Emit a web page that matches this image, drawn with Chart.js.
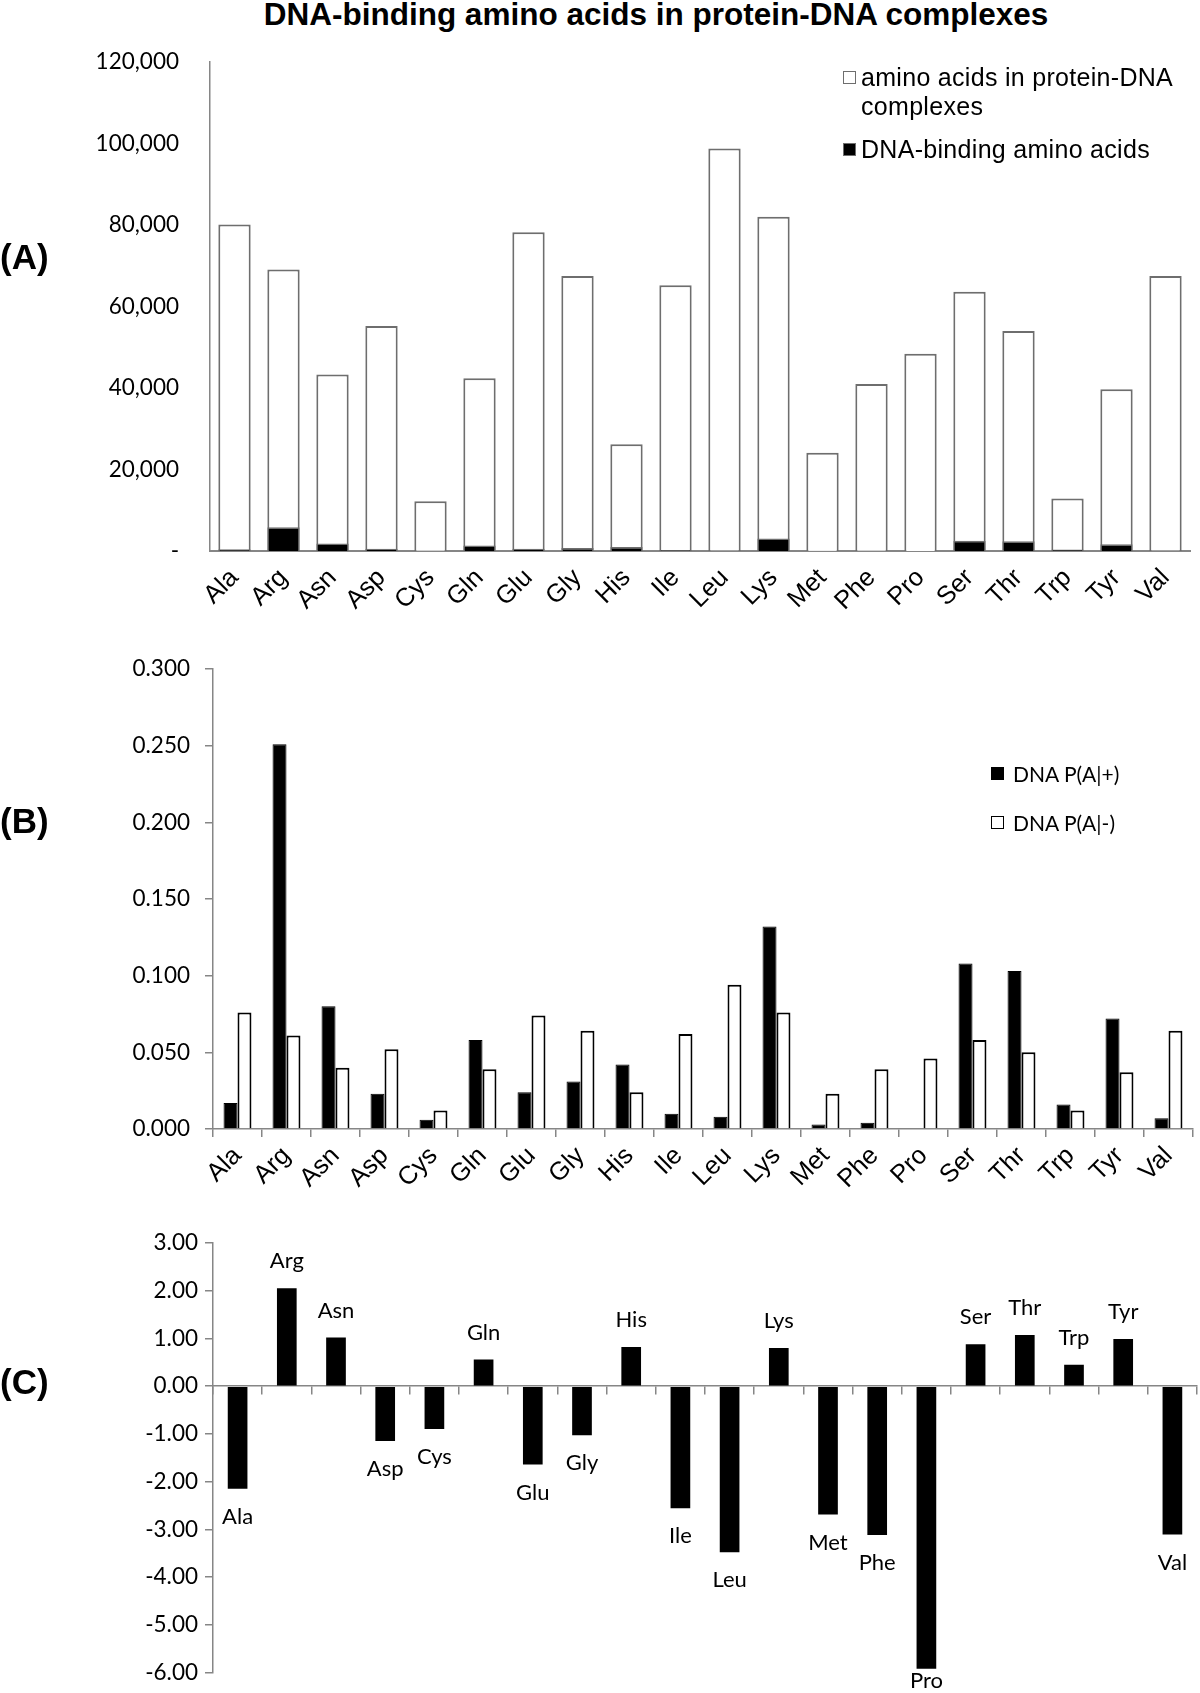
<!DOCTYPE html>
<html>
<head>
<meta charset="utf-8">
<script src="https://cdn.jsdelivr.net/npm/chart.js"></script>
<style>
  body { margin: 0; background: #fff; }
  #page { position: relative; width: 1200px; height: 1693px; overflow: hidden; background: #fff; }
  canvas { position: absolute; left: 0; }
  .txt { position: absolute; white-space: nowrap; color: #000; }
  .title { font: bold 31.5px "Liberation Sans", Arial, sans-serif; line-height: 30px; }
  .panel { font: bold 35px "Liberation Sans", Arial, sans-serif; line-height: 34px; left: 0; }
  .legA { font: 25px "Liberation Sans", Arial, sans-serif; line-height: 29px; letter-spacing: 0.3px; }
  .legB { font: 21px Lato, sans-serif; line-height: 26px; }
  .sq { position: absolute; width: 11px; height: 11px; box-sizing: content-box; }
</style>
</head>
<body>
<div id="page">
  <div class="txt title" style="left:656px; top:-1px; transform:translateX(-50%);">DNA-binding amino acids in protein-DNA complexes</div>

  <canvas id="chartA" width="1200" height="620" style="top:0"></canvas>
  <canvas id="chartB" width="1200" height="580" style="top:620px"></canvas>
  <canvas id="chartC" width="1200" height="493" style="top:1200px"></canvas>

  <div class="txt panel" style="top:240px;">(A)</div>
  <div class="txt panel" style="top:804px;">(B)</div>
  <div class="txt panel" style="top:1365px;">(C)</div>

  <!-- legend panel A -->
  <div class="sq" style="left:843px; top:71px; background:#fff; border:1.5px solid #6e6e6e;"></div>
  <div class="txt legA" style="left:861px; top:63px;">amino acids in protein-DNA</div>
  <div class="txt legA" style="left:861px; top:92px;">complexes</div>
  <div class="sq" style="left:843px; top:143px; background:#000; border:1.5px solid #6e6e6e;"></div>
  <div class="txt legA" style="left:861px; top:135px;">DNA-binding amino acids</div>

  <!-- legend panel B -->
  <div class="sq" style="left:991px; top:767px; background:#000; border:1.5px solid #000;"></div>
  <div class="txt legB" style="left:1013px; top:761px;">DNA P(A|+)</div>
  <div class="sq" style="left:991px; top:816px; background:#fff; border:1.5px solid #000;"></div>
  <div class="txt legB" style="left:1013px; top:810px;">DNA P(A|-)</div>
</div>

<script>
// amino acid categories (x axis of all three panels)
const aminoAcids = ['Ala', 'Arg', 'Asn', 'Asp', 'Cys', 'Gln', 'Glu', 'Gly', 'His', 'Ile',
                    'Leu', 'Lys', 'Met', 'Phe', 'Pro', 'Ser', 'Thr', 'Trp', 'Tyr', 'Val'];

// (A) counts
const complexCounts = [80100, 69100, 43300, 55200, 12200, 42400, 78200, 67500, 26200, 65200,
                       98800, 82000, 24100, 41000, 48400, 63600, 54000, 12900, 39700, 67500];
const bindingCounts = [400, 5850, 1870, 530, 150, 1350, 550, 720, 980, 240,
                       180, 3070, 80, 100, 10, 2510, 2410, 360, 1680, 160];

// (B) probabilities
const pBinding = [0.017, 0.251, 0.080, 0.023, 0.006, 0.058, 0.024, 0.031, 0.042, 0.010,
                  0.008, 0.132, 0.003, 0.004, 0.0005, 0.108, 0.103, 0.016, 0.072, 0.007];
const pNonBinding = [0.076, 0.061, 0.040, 0.052, 0.012, 0.039, 0.074, 0.064, 0.024, 0.062,
                     0.094, 0.076, 0.023, 0.039, 0.046, 0.058, 0.050, 0.012, 0.037, 0.064];

// (C) log ratio
const logRatio = [-2.15, 2.05, 1.02, -1.15, -0.90, 0.56, -1.64, -1.03, 0.82, -2.56,
                  -3.48, 0.80, -2.69, -3.12, -5.92, 0.88, 1.07, 0.45, 0.99, -3.11];

// tick settings
const countTicks = { min: 0, max: 120000, step: 20000 };
const probTicks = { min: 0, max: 0.3, step: 0.05 };
const ratioTicks = { min: -6, max: 3, step: 1 };

const axisGray = '#868686';
const tickFont = { family: 'Lato', size: 22.5 };
const catFont = { family: 'Liberation Sans', size: 25.5 };

Chart.defaults.animation = false;
Chart.defaults.responsive = false;
Chart.defaults.color = '#000';

// Panel A
new Chart(document.getElementById('chartA'), {
    type: 'bar',
    data: {
        labels: aminoAcids,
        datasets: [{
            label: 'amino acids in protein-DNA complexes',
            data: complexCounts,
            backgroundColor: '#fff',
            borderColor: '#6e6e6e',
            borderWidth: 2,
            grouped: false,
            order: 2,
            barPercentage: 0.66,
            categoryPercentage: 1
        }, {
            label: 'DNA-binding amino acids',
            data: bindingCounts,
            backgroundColor: '#000',
            borderColor: '#6e6e6e',
            borderWidth: 1.5,
            grouped: false,
            order: 1,
            barPercentage: 0.66,
            categoryPercentage: 1
        }]
    },
    options: {
        devicePixelRatio: 1,
        layout: { padding: { left: 0, right: 10, top: 62, bottom: 0 } },
        plugins: { legend: { display: false }, tooltip: { enabled: false } },
        scales: {
            x: {
                grid: { display: false, drawTicks: false },
                border: { display: true, color: axisGray, width: 2 },
                ticks: { maxRotation: 45, minRotation: 45, font: catFont, padding: 12, autoSkip: false },
                afterFit: s => { s.height = 69; }
            },
            y: {
                min: countTicks.min,
                max: countTicks.max,
                grid: { display: false, drawTicks: false },
                border: { display: true, color: axisGray, width: 1.5 },
                ticks: {
                    stepSize: countTicks.step,
                    font: tickFont,
                    padding: 31,
                    callback: v => v === 0 ? '-' : v.toLocaleString('en-US')
                },
                afterFit: s => { s.width = 210; }
            }
        }
    }
});

// Panel B
new Chart(document.getElementById('chartB'), {
    type: 'bar',
    data: {
        labels: aminoAcids,
        datasets: [{
            label: 'DNA P(A|+)',
            data: pBinding,
            backgroundColor: '#000',
            borderColor: '#000',
            borderWidth: 1,
            barPercentage: 1,
            categoryPercentage: 0.57
        }, {
            label: 'DNA P(A|-)',
            data: pNonBinding,
            backgroundColor: '#fff',
            borderColor: '#000',
            borderWidth: 2,
            barPercentage: 1,
            categoryPercentage: 0.57
        }]
    },
    options: {
        devicePixelRatio: 1,
        layout: { padding: { left: 0, right: 7, top: 49, bottom: 0 } },
        plugins: { legend: { display: false }, tooltip: { enabled: false } },
        scales: {
            x: {
                grid: { display: true, drawOnChartArea: false, drawTicks: true, tickLength: 8, color: axisGray, lineWidth: 1.5 },
                border: { display: true, color: axisGray, width: 1.5 },
                ticks: { maxRotation: 45, minRotation: 45, font: catFont, padding: 4, autoSkip: false },
                afterFit: s => { s.height = 71; }
            },
            y: {
                min: probTicks.min,
                max: probTicks.max,
                grid: { display: true, drawOnChartArea: false, drawTicks: true, tickLength: 8, color: axisGray, lineWidth: 1.5 },
                border: { display: true, color: axisGray, width: 1.5 },
                ticks: {
                    stepSize: probTicks.step,
                    font: tickFont,
                    padding: 15,
                    callback: v => v.toFixed(3)
                },
                afterFit: s => { s.width = 213; }
            }
        }
    }
});

// labels at bar ends for panel C
const barEndLabels = {
    id: 'barEndLabels',
    afterDatasetsDraw(chart) {
        const ctx = chart.ctx;
        const meta = chart.getDatasetMeta(0);
        ctx.save();
        ctx.font = '22px Lato';
        ctx.fillStyle = '#000';
        ctx.textAlign = 'center';
        ctx.textBaseline = 'middle';
        meta.data.forEach((bar, i) => {
            let y = logRatio[i] >= 0 ? bar.y - 27 : bar.y + 28;
            y = Math.min(y, chart.height - 12);
            ctx.fillText(aminoAcids[i], bar.x, y);
        });
        ctx.restore();
    }
};

// Panel C
new Chart(document.getElementById('chartC'), {
    type: 'bar',
    data: {
        labels: aminoAcids,
        datasets: [{
            label: 'log ratio',
            data: logRatio,
            backgroundColor: '#000',
            borderWidth: 0,
            barPercentage: 0.4,
            categoryPercentage: 1
        }]
    },
    options: {
        devicePixelRatio: 1,
        layout: { padding: { left: 0, right: 3, top: 43, bottom: 11 } },
        plugins: { legend: { display: false }, tooltip: { enabled: false } },
        scales: {
            x: {
                position: { y: 0 },
                grid: { display: true, drawOnChartArea: false, drawTicks: true, tickLength: 8, color: axisGray, lineWidth: 1.5, offset: true },
                border: { display: true, color: axisGray, width: 1.5 },
                ticks: { display: false }
            },
            y: {
                min: ratioTicks.min,
                max: ratioTicks.max,
                grid: { display: true, drawOnChartArea: false, drawTicks: true, tickLength: 8, color: axisGray, lineWidth: 1.5 },
                border: { display: true, color: axisGray, width: 1.5 },
                ticks: {
                    stepSize: ratioTicks.step,
                    font: tickFont,
                    padding: 7,
                    callback: v => v.toFixed(2)
                },
                afterFit: s => { s.width = 213; }
            }
        }
    },
    plugins: [barEndLabels]
});
</script>
</body>
</html>
